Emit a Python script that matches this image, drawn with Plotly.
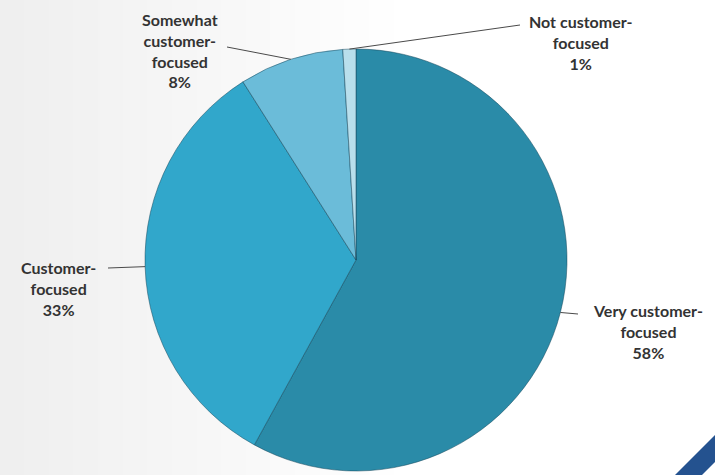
import math
import plotly.graph_objects as go

# ---- data ----
categories = ["Very customer-<br>focused", "Customer-<br>focused",
              "Somewhat<br>customer-<br>focused", "Not customer-<br>focused"]
values = [58, 33, 8, 1]
colors = ["#2a8ba8", "#31a7cb", "#6bbcd9", "#b9dfec"]

# ---- layout geometry (pixels) ----
W, H = 715, 475
CX, CY, R = 356, 260, 211
# label block centres and leader-line end points (pixels)
label_pos = [(648, 331), (58, 288), (180, 50), (581, 42)]
leader_end = [(578, 314), (108, 268), (227, 47), (520, 25)]


def px(x, y):
    return x / W, 1 - y / H


fig = go.Figure()
fig.add_trace(go.Pie(
    labels=categories,
    values=values,
    sort=False,
    direction="clockwise",
    rotation=0,
    marker=dict(colors=colors, line=dict(color="rgba(20,70,90,0.5)", width=1)),
    textinfo="none",
    hoverinfo="label+percent",
    showlegend=False,
    domain=dict(x=[(CX - R) / W, (CX + R) / W], y=[1 - (CY + R) / H, 1 - (CY - R) / H]),
))

shapes = []
# soft grey background gradient (left side)
steps = 16
for i in range(steps):
    x1 = 0.55 * (1 - i / steps)
    shapes.append(dict(type="rect", xref="paper", yref="paper", x0=0, x1=x1, y0=0, y1=1,
                       fillcolor="rgba(225,225,238,0.03)", line=dict(width=0), layer="below"))
# blue diagonal band bottom-right
shapes.append(dict(type="path", xref="paper", yref="paper",
                   path="M {} {} L {} {} L {} {} L {} {} Z".format(
                       *px(675, 475), *px(715, 435), *px(715, 462), *px(702, 475)),
                   fillcolor="#24528f", line=dict(width=0)))

annotations = []
total = sum(values)
cum = 0
for i, v in enumerate(values):
    mid = (cum + v / 2) / total * 2 * math.pi
    cum += v
    ax = CX + R * math.sin(mid)
    ay = CY - R * math.cos(mid)
    ex, ey = leader_end[i]
    x0, y0 = px(ax, ay)
    x1, y1 = px(ex, ey)
    shapes.append(dict(type="line", xref="paper", yref="paper", x0=x0, y0=y0, x1=x1, y1=y1,
                       line=dict(color="#4a4a4a", width=1)))
    lx, ly = px(*label_pos[i])
    annotations.append(dict(
        x=lx, y=ly, xref="paper", yref="paper", xanchor="center", yanchor="middle",
        text="<b>{}<br>{}%</b>".format(categories[i], v), showarrow=False, align="center",
        font=dict(family="Lato", size=16, color="#333333"),
    ))

fig.update_layout(
    width=W, height=H,
    margin=dict(l=0, r=0, t=0, b=0),
    paper_bgcolor="#ffffff",
    plot_bgcolor="#ffffff",
    shapes=shapes,
    annotations=annotations,
)

fig.write_html("out.html")
